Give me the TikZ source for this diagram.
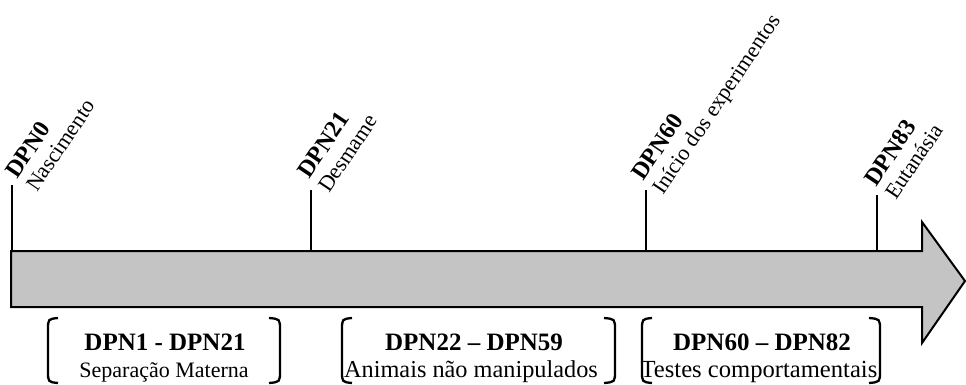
\documentclass[tikz,border=0pt]{standalone}
\usepackage{fontspec}
\setmainfont{Liberation Serif}
\usetikzlibrary{calc}
\definecolor{arrowgray}{RGB}{196,196,196}
\tikzset{
  tick/.style={line width=2pt, line cap=butt},
  lblb/.style={rotate=56, anchor=base west, inner sep=0pt, font=\fontsize{24}{24}\selectfont\bfseries},
  lblr/.style={rotate=56, anchor=base west, inner sep=0pt, font=\fontsize{22}{22}\selectfont},
  boxb/.style={anchor=base, inner sep=0pt, font=\fontsize{25}{25}\selectfont\bfseries},
  boxr/.style={anchor=base, inner sep=0pt},
  brk/.style={line width=2.3pt}
}
\begin{document}
\begin{tikzpicture}[x=1pt,y=-1pt]
\useasboundingbox (0,0) rectangle (966,385);
% arrow
\draw[line width=2pt, fill=arrowgray, line join=miter]
  (11,251) -- (922,251) -- (922,222) -- (965,281) -- (922,343) -- (922,307) -- (11,307) -- cycle;
% ticks
\coordinate (t0) at (12,185);
\coordinate (b0) at (12,251);
\coordinate (t1) at (311,190);
\coordinate (b1) at (311,251);
\coordinate (t2) at (646,190);
\coordinate (b2) at (646,251);
\coordinate (t3) at (877,195);
\coordinate (b3) at (877,251);
\draw[tick] (t0) -- (b0);
\draw[tick] (t1) -- (b1);
\draw[tick] (t2) -- (b2);
\draw[tick] (t3) -- (b3);
% labels
\node[lblb] (l0a) at ($(t0)+(5,-5)$) {DPN0};
\node[lblr] (l0b) at ($(t0)+(25,8)$) {Nascimento};
\node[lblb] (l1a) at ($(t1)+(-2,-10)$) {DPN21};
\node[lblr] (l1b) at ($(t1)+(18,4)$) {Desmame};
\node[lblb] (l2a) at ($(t2)+(-3,-8)$) {DPN60};
\node[lblr] (l2b) at ($(t2)+(17,6)$) {Início dos experimentos};
\node[lblb] (l3a) at ($(t3)+(-1,-7)$) {DPN83};
\node[lblr] (l3b) at ($(t3)+(19,6)$) {Eutanásia};
% bracket boxes
\foreach \l/\r in {48/280, 342/615, 642/880}{
  \draw[brk] (\l+10,318) .. controls (\l,319) .. (\l,330) -- (\l,371) .. controls (\l,382) .. (\l+10,383);
  \draw[brk] (\r-11,318) .. controls (\r,319) .. (\r,330) -- (\r,371) .. controls (\r,382) .. (\r-11,383);
}
\node[boxb] (p1a) at (165,350) {DPN1 - DPN21};
\node[boxr, font=\fontsize{22}{22}\selectfont] (p1b) at (164,377) {Separação Materna};
\node[boxb] (p2a) at (474,350) {DPN22 – DPN59};
\node[boxr, font=\fontsize{24.3}{24}\selectfont] (p2b) at (471,377) {Animais não manipulados};
\node[boxb] (p3a) at (762,350) {DPN60 – DPN82};
\node[boxr, font=\fontsize{24.6}{24}\selectfont] (p3b) at (759,377) {Testes comportamentais};
\end{tikzpicture}
\end{document}
